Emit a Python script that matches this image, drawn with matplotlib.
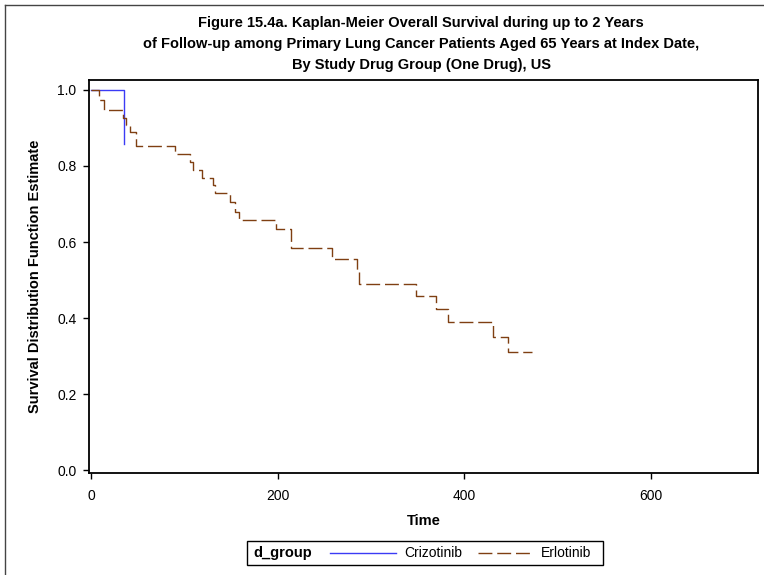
import numpy as np
import matplotlib
matplotlib.use("Agg")
import matplotlib.pyplot as plt
from matplotlib.lines import Line2D
from matplotlib.patches import Rectangle

plt.rcParams['font.family'] = ['Liberation Sans', 'DejaVu Sans']

# KM estimates (time in days)
criz_time = [0, 35]
criz_surv = [1.0, 0.857]

erl_time = [0, 8, 14, 34, 37, 42, 48, 90, 106, 109, 119, 131, 133, 149, 154,
            159, 198, 214, 258, 285, 287, 348, 370, 383, 431, 447, 473]
erl_surv = [1.0, 0.973, 0.946, 0.926, 0.908, 0.89, 0.853, 0.832, 0.81, 0.789,
            0.769, 0.749, 0.728, 0.706, 0.68, 0.659, 0.634, 0.585, 0.555, 0.526,
            0.491, 0.458, 0.424, 0.389, 0.35, 0.311, 0.311]

xticks = [0, 200, 400, 600]
yticks = [0.0, 0.2, 0.4, 0.6, 0.8, 1.0]
group_names = ['Crizotinib', 'Erlotinib']
title_lines = ["Figure 15.4a. Kaplan-Meier Overall Survival during up to 2 Years",
               "of Follow-up among Primary Lung Cancer Patients Aged 65 Years at Index Date,",
               "By Study Drug Group (One Drug), US"]

W, H = 764, 575
fig = plt.figure(figsize=(W / 100, H / 100), dpi=100)

def fx(px):
    return px / W

def fy(py):
    return 1 - py / H

# axes box in pixels: left 89, right 758, top 80, bottom 473
ax = fig.add_axes([fx(89), fy(473), fx(758 - 89), (473 - 80) / H])

blue = '#3b3bf5'
brown = '#7f3f12'

ax.step(criz_time, criz_surv, where='post', color=blue, lw=1.0)
ax.step(erl_time, erl_surv, where='post', color=brown, lw=1.0,
        linestyle=(0, (10, 3.5)))

ax.set_xlim(-2.3, 715)
ax.set_ylim(-0.007, 1.026)
ax.set_xticks(xticks)
ax.set_yticks(yticks)
ax.set_xticklabels([str(t) for t in xticks])
ax.set_yticklabels(['%.1f' % t for t in yticks])
ax.tick_params(direction='out', length=4.5, width=1, labelsize=10)
ax.tick_params(axis='x', pad=7)
ax.tick_params(axis='y', pad=4.5)
for s in ax.spines.values():
    s.set_linewidth(1.3)

ax.set_xlabel('Time', fontsize=10.5, fontweight='bold', labelpad=8)
ax.set_ylabel('Survival Distribution Function Estimate', fontsize=10.5,
              fontweight='bold', labelpad=11)

for i, line in enumerate(title_lines):
    fig.text(fx(421), fy(23 + i * 21), line, ha='center', va='center',
             fontsize=10.5, fontweight='bold')

# legend box
fig.patches.append(Rectangle((fx(247), fy(565)), fx(603 - 247), (565 - 541) / H,
                             transform=fig.transFigure, fill=False,
                             edgecolor='black', lw=1.0))
ly = fy(553)
fig.text(fx(253), ly, 'd_group', ha='left', va='center', fontsize=10.5,
         fontweight='bold')
fig.lines.append(Line2D([fx(330), fx(396)], [ly, ly], transform=fig.transFigure,
                        color=blue, lw=1.0))
fig.text(fx(404), ly, group_names[0], ha='left', va='center', fontsize=10)
fig.lines.append(Line2D([fx(478), fx(533)], [ly, ly], transform=fig.transFigure,
                        color=brown, lw=1.0, linestyle=(0, (10, 3.5))))
fig.text(fx(541), ly, group_names[1], ha='left', va='center', fontsize=10)

# outer frame (left and top edges visible)
fig.lines.append(Line2D([fx(5), fx(5)], [0, fy(5)], transform=fig.transFigure,
                        color='#444444', lw=1.0))
fig.lines.append(Line2D([fx(5), 1], [fy(5), fy(5)], transform=fig.transFigure,
                        color='#444444', lw=1.0))

fig.savefig('out.png', dpi=100)
